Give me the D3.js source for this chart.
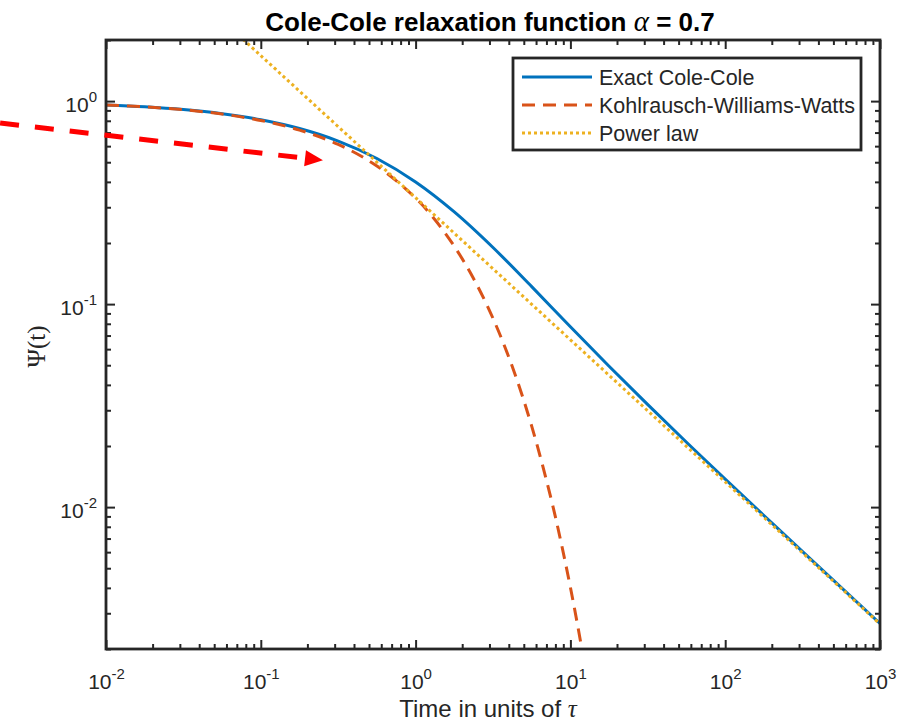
<!DOCTYPE html>
<html>
<head>
<meta charset="utf-8">
<script src="https://cdn.jsdelivr.net/npm/d3@7"></script>
<style>
  body { margin: 0; background: #fff; }
  svg text { font-family: "Liberation Sans", Arial, Helvetica, sans-serif; fill: #262626; }
</style>
</head>
<body>
<svg width="910" height="727"></svg>
<script>
// time samples (units of tau) and the exact Cole-Cole relaxation, alpha = 0.7
var ccTimes  = [0.01, 0.01778, 0.03162, 0.05623, 0.1, 0.1778, 0.3162, 0.5623, 1, 1.778, 3.162, 5.623, 10, 17.78, 31.62, 56.23, 100, 316.2, 1000];
var ccValues = [0.9574, 0.9372, 0.9080, 0.8665, 0.8092, 0.7326, 0.6356, 0.5215, 0.3996, 0.2845, 0.1900, 0.1219, 0.0773, 0.04944, 0.03197, 0.02088, 0.01374, 0.006030, 0.002672];

// stretched exponential (KWW)
var kwwTimes  = [0.01, 0.01778, 0.03162, 0.05623, 0.1, 0.1778, 0.3162, 0.5623, 1, 1.334, 1.778, 2.371, 3.162, 4.217, 5.623, 7.499, 8.660, 10, 11.55, 13.34];
var kwwValues = [0.9571, 0.9366, 0.9066, 0.8635, 0.8029, 0.7200, 0.6117, 0.4792, 0.3327, 0.2602, 0.1927, 0.1334, 0.08511, 0.04911, 0.02506, 0.01101, 0.006824, 0.004023, 0.002242, 0.001174];

// long-time power law
var powTimes  = [0.01, 0.1, 1, 10, 100, 1000];
var powValues = [8.397, 1.675, 0.3343, 0.06670, 0.01331, 0.002655];

var xTicks = [0.01, 0.1, 1, 10, 100, 1000];
var xTickExp = ["-2", "-1", "0", "1", "2", "3"];
var yTicks = [0.01, 0.1, 1];
var yTickExp = ["-2", "-1", "0"];

var legendNames = ["Exact Cole-Cole", "Kohlrausch-Williams-Watts", "Power law"];

// annotation arrow, in data coordinates (start, tip)
var arrowFrom = [0.00207, 0.78];
var arrowTo = [0.252, 0.511];

var svg = d3.select("svg"),
    margin = {top: 40, right: 30, bottom: 78, left: 106},
    width = +svg.attr("width") - margin.left - margin.right,
    height = +svg.attr("height") - margin.top - margin.bottom;

var g = svg.append("g")
    .attr("transform", "translate(" + margin.left + "," + margin.top + ")");

var x = d3.scaleLog().domain([0.01, 1000]).range([0, width]);
var y = d3.scaleLog().domain([0.002, 2]).range([height, 0]);

g.append("clipPath").attr("id", "plotclip")
  .append("rect").attr("width", width).attr("height", height);

var line = d3.line()
    .x(function (d) { return x(d[0]); })
    .y(function (d) { return y(d[1]); })
    .curve(d3.curveCatmullRom.alpha(0.5));

var styles = [
  {color: "#0072BD", dash: null, w: 3},
  {color: "#D95319", dash: "13,8", w: 3},
  {color: "#EDB120", dash: "3,3", w: 3}
];
var series = [d3.zip(ccTimes, ccValues), d3.zip(kwwTimes, kwwValues), d3.zip(powTimes, powValues)];

var plot = g.append("g").attr("clip-path", "url(#plotclip)");
series.forEach(function (pts, i) {
  plot.append("path")
    .datum(pts)
    .attr("fill", "none")
    .attr("stroke", styles[i].color)
    .attr("stroke-width", styles[i].w)
    .attr("stroke-dasharray", styles[i].dash)
    .attr("d", line);
});

// minor tick values for log axes
function minors(lo, hi, e0, e1) {
  var out = [];
  for (var e = e0; e <= e1; e++) {
    for (var m = 2; m <= 9; m++) {
      var v = +(m + "e" + e);
      if (v >= lo && v <= hi) out.push(v);
    }
  }
  return out;
}
var xMinor = minors(0.01, 1000, -2, 2);
var yMinor = minors(0.002, 2, -3, 0);

function styleAxis(sel) {
  sel.select(".domain").remove();
  sel.attr("color", "#262626").attr("font-size", 21)
     .attr("font-family", '"Liberation Sans", Arial, sans-serif');
  sel.selectAll("line").attr("stroke-width", 2);
}

// bottom
var bx = g.append("g").attr("transform", "translate(0," + height + ")")
  .call(d3.axisBottom(x).tickValues(xTicks).tickSizeInner(-9).tickSizeOuter(0).tickFormat(function () { return "10"; }));
styleAxis(bx);
bx.selectAll("text").attr("y", 40).attr("dy", null)
  .append("tspan").attr("dy", -10).attr("font-size", 15).text(function (d, i) { return xTickExp[i]; });
styleAxis(g.append("g").attr("transform", "translate(0," + height + ")")
  .call(d3.axisBottom(x).tickValues(xMinor).tickSizeInner(-5).tickSizeOuter(0).tickFormat("")));

// top
styleAxis(g.append("g").call(d3.axisTop(x).tickValues(xTicks).tickSizeInner(-9).tickSizeOuter(0).tickFormat("")));
styleAxis(g.append("g").call(d3.axisTop(x).tickValues(xMinor).tickSizeInner(-5).tickSizeOuter(0).tickFormat("")));

// left
var ly = g.append("g")
  .call(d3.axisLeft(y).tickValues(yTicks).tickSizeInner(-9).tickSizeOuter(0).tickFormat(function () { return "10"; }));
styleAxis(ly);
ly.selectAll("text").attr("x", -9).attr("dy", 10)
  .append("tspan").attr("dy", -10).attr("font-size", 15).text(function (d, i) { return yTickExp[i]; });
styleAxis(g.append("g").call(d3.axisLeft(y).tickValues(yMinor).tickSizeInner(-5).tickSizeOuter(0).tickFormat("")));

// right
styleAxis(g.append("g").attr("transform", "translate(" + width + ",0)")
  .call(d3.axisRight(y).tickValues(yTicks).tickSizeInner(-9).tickSizeOuter(0).tickFormat("")));
styleAxis(g.append("g").attr("transform", "translate(" + width + ",0)")
  .call(d3.axisRight(y).tickValues(yMinor).tickSizeInner(-5).tickSizeOuter(0).tickFormat("")));

// axes box
g.append("rect")
  .attr("width", width).attr("height", height)
  .attr("fill", "none").attr("stroke", "#262626").attr("stroke-width", 2.8);

// title
var title = svg.append("text")
  .attr("x", margin.left + width / 2 - 3).attr("y", 31)
  .attr("text-anchor", "middle")
  .attr("font-size", 26).attr("font-weight", "bold")
  .style("fill", "#000");
title.append("tspan").text("Cole-Cole relaxation function ");
title.append("tspan").attr("font-family", '"Liberation Serif", "Times New Roman", serif')
  .attr("font-style", "italic").attr("font-weight", "normal").attr("font-size", 29).text("\u03b1");
title.append("tspan").text(" = 0.7");

// axis labels
var xl = svg.append("text")
  .attr("x", margin.left + width / 2 - 5).attr("y", 717)
  .attr("text-anchor", "middle").attr("font-size", 24);
xl.append("tspan").text("Time in units of ");
xl.append("tspan").attr("font-family", '"Liberation Serif", "Times New Roman", serif')
  .attr("font-style", "italic").attr("font-size", 25).text("\u03c4");

svg.append("text")
  .attr("transform", "translate(45," + (margin.top + height / 2 + 2) + ") rotate(-90)")
  .attr("text-anchor", "middle")
  .attr("font-size", 25)
  .style("font-family", '"Liberation Serif", "Times New Roman", serif')
  .text("\u03a8(t)");

// legend
var leg = svg.append("g").attr("transform", "translate(513,58)");
leg.append("rect")
  .attr("width", 348).attr("height", 92)
  .attr("fill", "#fff").attr("stroke", "#262626").attr("stroke-width", 2.8);
var rows = leg.selectAll(".row").data(legendNames).enter().append("g")
  .attr("class", "row")
  .attr("transform", function (d, i) { return "translate(0," + (19 + i * 28) + ")"; });
rows.append("line")
  .attr("x1", 9).attr("x2", 79)
  .attr("stroke", function (d, i) { return styles[i].color; })
  .attr("stroke-width", function (d, i) { return styles[i].w; })
  .attr("stroke-dasharray", function (d, i) { return styles[i].dash; });
rows.append("text")
  .attr("x", 86).attr("dy", "0.35em")
  .attr("font-size", 21.5)
  .text(function (d) { return d; });

// red dashed arrow annotation
var p0 = [x(arrowFrom[0]), y(arrowFrom[1])],
    p1 = [x(arrowTo[0]), y(arrowTo[1])];
var dx = p1[0] - p0[0], dy = p1[1] - p0[1], len = Math.sqrt(dx * dx + dy * dy);
var ux = dx / len, uy = dy / len, headL = 18, headW = 8;
var base = [p1[0] - headL * ux, p1[1] - headL * uy];
g.append("line")
  .attr("x1", p0[0]).attr("y1", p0[1])
  .attr("x2", base[0]).attr("y2", base[1])
  .attr("stroke", "#ff0000").attr("stroke-width", 5)
  .attr("stroke-dasharray", "19,16");
g.append("path")
  .attr("d", "M" + p1[0] + "," + p1[1] +
             "L" + (base[0] - headW * uy) + "," + (base[1] + headW * ux) +
             "L" + (base[0] + headW * uy) + "," + (base[1] - headW * ux) + "Z")
  .attr("fill", "#ff0000");
</script>
</body>
</html>
